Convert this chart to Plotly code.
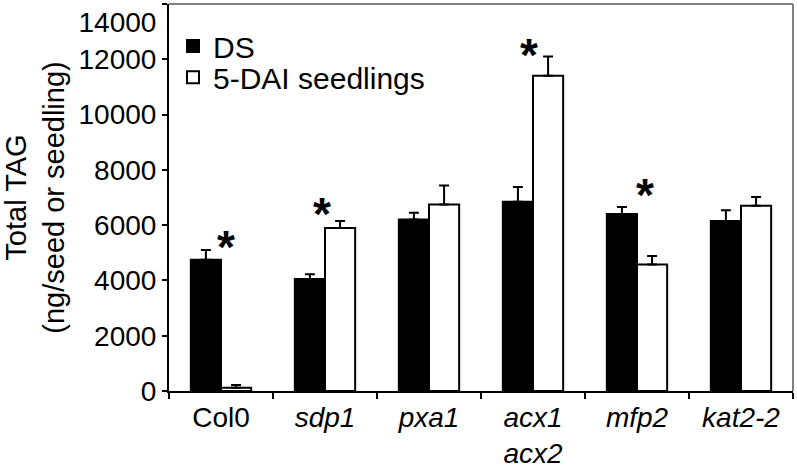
import plotly.graph_objects as go

categories = ["Col0", "sdp1", "pxa1", "acx1 acx2", "mfp2", "kat2-2"]
tick_labels = ["Col0", "<i>sdp1</i>", "<i>pxa1</i>", "<i>acx1</i><br><i>acx2</i>", "<i>mfp2</i>", "<i>kat2-2</i>"]
ds_values = [4750, 4050, 6200, 6850, 6400, 6150]
ds_errors = [350, 170, 250, 530, 260, 390]
dai_values = [120, 5900, 6750, 11400, 4580, 6700]
dai_errors = [100, 250, 680, 700, 300, 320]
significant = [True, True, False, True, True, False]
y_tick_vals = [0, 2000, 4000, 6000, 8000, 10000, 12000, 14000]
y_tick_text = ["0", "2000", "4000", "6000", "8000", "10000", "12000", "<br>14000"]

FONT = "Liberation Sans, Arial, sans-serif"

fig = go.Figure()
fig.add_trace(go.Bar(
    name="DS", x=categories, y=ds_values, legend="legend",
    marker=dict(color="black", line=dict(color="black", width=2)),
    error_y=dict(type="data", array=ds_errors, arrayminus=[0]*len(ds_errors),
                 symmetric=False, color="black", thickness=2, width=5),
))
fig.add_trace(go.Bar(
    name="5-DAI seedlings", x=categories, y=dai_values, legend="legend2",
    marker=dict(color="white", line=dict(color="black", width=2)),
    error_y=dict(type="data", array=dai_errors, arrayminus=[0]*len(dai_errors),
                 symmetric=False, color="black", thickness=2, width=5),
))

xshifts = [5, -3, 0, -4, 8, 0]
yshifts = [0, 4, 0, -1, 9, 0]
for i, cat in enumerate(categories):
    if significant[i]:
        top = max(ds_values[i] + ds_errors[i], dai_values[i] + dai_errors[i])
        fig.add_annotation(x=cat, y=top, xref="x", yref="y", text="<b>*</b>",
                           showarrow=False, yanchor="bottom",
                           xshift=xshifts[i], yshift=yshifts[i] - 25,
                           font=dict(family=FONT, size=46, color="black"))

# gray top and right frame
fig.add_shape(type="line", xref="paper", yref="paper", x0=0, x1=1, y0=1, y1=1,
              line=dict(color="#808080", width=2))
fig.add_shape(type="line", xref="paper", yref="paper", x0=1, x1=1, y0=0, y1=1,
              line=dict(color="#808080", width=2))

legend_style = dict(xanchor="left", yanchor="middle", bgcolor="rgba(0,0,0,0)",
                    font=dict(family=FONT, size=30), itemwidth=30)

fig.update_layout(
    width=797, height=468,
    margin=dict(l=169, r=4, t=4, b=77),
    paper_bgcolor="white", plot_bgcolor="white",
    barmode="group", bargap=0.42, bargroupgap=0,
    font=dict(family=FONT, size=28, color="black"),
    showlegend=True,
    legend=dict(x=0.0064, y=0.8915, **legend_style),
    legend2=dict(x=0.0064, y=0.811, **legend_style),
    xaxis=dict(
        type="category", tickmode="array", tickvals=categories, ticktext=tick_labels,
        showline=True, linecolor="black", linewidth=2,
        ticks="outside", ticklen=6, tickwidth=2, tickcolor="black",
        tickson="boundaries", showgrid=False, automargin=False,
        tickfont=dict(family=FONT, size=28),
    ),
    yaxis=dict(
        range=[0, 14000], tickmode="array", tickvals=y_tick_vals, ticktext=y_tick_text,
        showline=True, linecolor="black", linewidth=2,
        ticks="outside", ticklen=5, tickwidth=2, tickcolor="black",
        showgrid=False, zeroline=False, automargin=False,
        ticklabeloverflow="allow",
        tickfont=dict(family=FONT, size=28),
        title=dict(text="Total TAG<br>(ng/seed or seedling)",
                   font=dict(family=FONT, size=29), standoff=13),
    ),
)

fig.write_html("out.html", config={"displayModeBar": False},
               post_script="document.body.style.margin='0px';")
